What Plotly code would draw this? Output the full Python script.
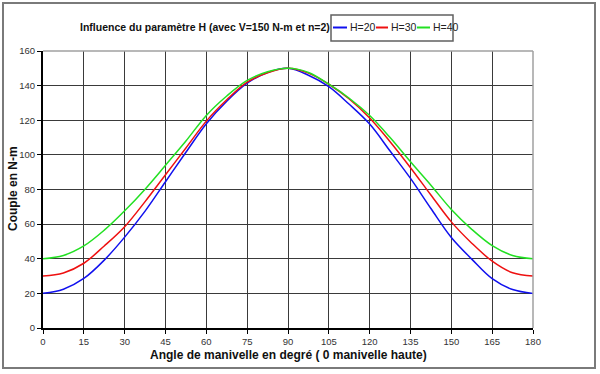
import plotly.graph_objects as go

angles = [0, 7.5, 15, 22.5, 30, 37.5, 45, 52.5, 60, 67.5, 75, 82.5, 90,
          97.5, 105, 112.5, 120, 127.5, 135, 142.5, 150, 157.5, 165, 172.5, 180]

h20 = [20, 22.4, 28.6, 39.2, 52.5, 67.5, 84.5, 101.5, 118.0, 131.0, 141.4, 147.6, 150,
       146.0, 139.4, 129.2, 117.8, 102.2, 86.4, 69.0, 52.3, 39.8, 28.5, 22.2, 20]
h30 = [30, 31.8, 37.4, 47.4, 58.5, 73.0, 88.5, 104.0, 119.5, 131.8, 142.0, 147.4, 150,
       147.2, 140.8, 132.3, 121.3, 107.6, 92.6, 76.8, 61.3, 49.0, 38.6, 31.9, 30]
h40 = [40, 41.9, 47.4, 56.5, 67.7, 80.2, 94.0, 108.0, 122.8, 134.0, 143.0, 148.0, 150,
       147.6, 140.8, 132.7, 122.7, 110.0, 96.0, 82.5, 68.5, 57.0, 47.6, 41.9, 40]

series_names = ["H=20", "H=30", "H=40"]
series_colors = ["#1010ee", "#ee1010", "#22e022"]
series_values = [h20, h30, h40]

x_ticks = list(range(0, 181, 15))
y_ticks = list(range(0, 161, 20))

title_text = "Influence du paramètre H (avec V=150 N-m et n=2)"
x_title = "Angle de manivelle en degré ( 0 manivelle haute)"
y_title = "Couple en N-m"

W, H = 600, 374
L, R, T, B = 43, 67, 51, 46
pw, ph = W - L - R, H - T - B


def px(xp):
    return (xp - L) / pw


def py(yp):
    return (H - B - yp) / ph


fig = go.Figure()
for name, col, vals in zip(series_names, series_colors, series_values):
    fig.add_trace(go.Scatter(x=angles, y=vals, mode="lines", name=name,
                             line=dict(color=col, width=1.5, shape="spline", smoothing=1.0),
                             showlegend=False))

font_family = "Liberation Sans, Arial, sans-serif"

fig.update_layout(
    width=W, height=H,
    margin=dict(l=L, r=R, t=T, b=B, pad=0, autoexpand=False),
    paper_bgcolor="white", plot_bgcolor="white",
    font=dict(family=font_family, color="#222"),
)

axis_common = dict(showgrid=True, gridcolor="#3a3a3a", gridwidth=1,
                   showline=True, linecolor="#000", linewidth=2,
                   ticks="outside", ticklen=4, tickcolor="#000", tickwidth=1,
                   tickfont=dict(size=9.5, color="#333"), zeroline=False,
                   automargin=False, tickmode="array")
fig.update_xaxes(range=[0, 180], tickvals=x_ticks, **axis_common)
fig.update_yaxes(range=[0, 160], tickvals=y_ticks, **axis_common)

shapes = []
shapes.append(dict(type="line", xref="paper", yref="paper", x0=0, x1=1, y0=1, y1=1,
                   line=dict(color="#a0a0a0", width=1.5)))
shapes.append(dict(type="line", xref="paper", yref="paper", x0=1, x1=1, y0=0, y1=1,
                   line=dict(color="#a0a0a0", width=1.5)))
shapes.append(dict(type="rect", xref="paper", yref="paper", x0=px(3), x1=px(595), y0=py(368), y1=py(3),
                   line=dict(color="#7a7a7a", width=2), layer="below"))
shapes.append(dict(type="rect", xref="paper", yref="paper", x0=px(331), x1=px(453), y0=py(41), y1=py(15),
                   line=dict(color="#606060", width=1.5), fillcolor="white"))

annotations = []
annotations.append(dict(text="<b>" + title_text + "</b>", xref="paper", yref="paper",
                        x=px(205), y=py(27), xanchor="center", yanchor="middle", showarrow=False,
                        font=dict(size=10.5, color="#111")))
annotations.append(dict(text="<b>" + x_title + "</b>", xref="paper", yref="paper",
                        x=px(288), y=py(355), xanchor="center", yanchor="middle", showarrow=False,
                        font=dict(size=12, color="#111")))
annotations.append(dict(text="<b>" + y_title + "</b>", xref="paper", yref="paper",
                        x=px(13), y=py(189), xanchor="center", yanchor="middle", showarrow=False,
                        textangle=-90, font=dict(size=12, color="#111")))

leg_x = [(333, 347), (376, 388), (417, 430)]
leg_y = 27.5
for (a, b), name, col in zip(leg_x, series_names, series_colors):
    shapes.append(dict(type="line", xref="paper", yref="paper", x0=px(a), x1=px(b), y0=py(leg_y), y1=py(leg_y),
                       line=dict(color=col, width=2)))
    annotations.append(dict(text=name, xref="paper", yref="paper", x=px(b + 0.5), y=py(leg_y),
                            xanchor="left", yanchor="middle", showarrow=False,
                            font=dict(size=10.5, color="#222")))

fig.update_layout(shapes=shapes, annotations=annotations)

fig.write_html("out.html", config={"displayModeBar": False},
               post_script="document.body.style.margin='0';")
